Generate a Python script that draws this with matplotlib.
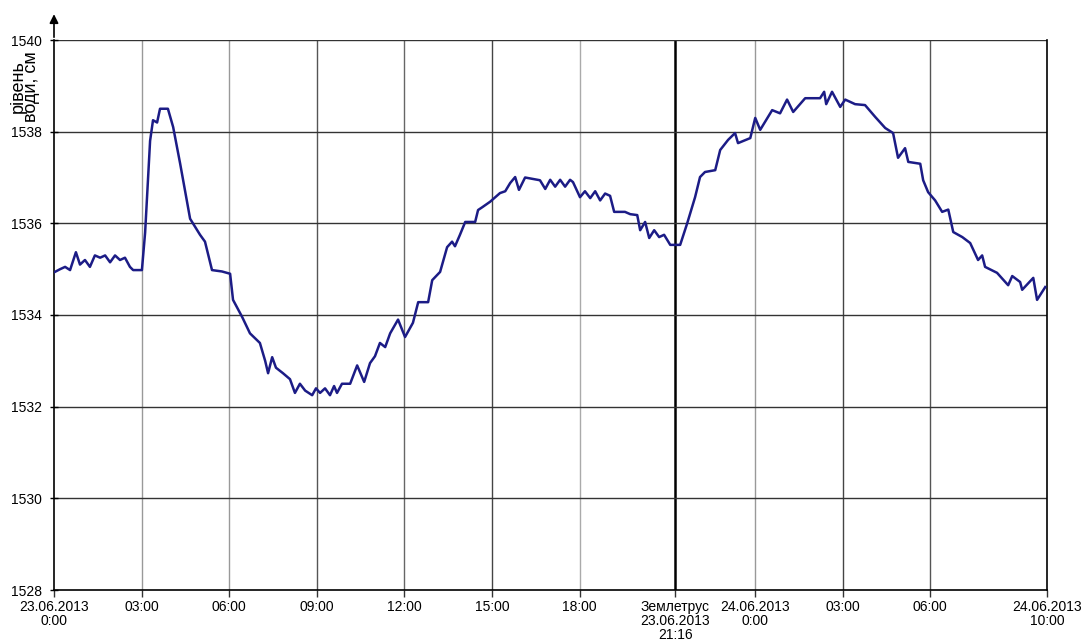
import matplotlib.pyplot as plt

# hours since 23.06.2013 0:00 and water level (cm)
hours = [0.03, 0.21, 0.38, 0.55, 0.75, 0.89, 1.06, 1.23, 1.40, 1.58, 1.75, 1.92, 2.09, 2.26,
         2.43, 2.60, 2.71, 2.95, 3.01, 3.12, 3.22, 3.29, 3.39, 3.53, 3.63, 3.90, 4.08, 4.32,
         4.66, 5.00, 5.17, 5.41, 5.75, 6.03, 6.13, 6.44, 6.71, 7.05, 7.23, 7.33, 7.47, 7.60,
         7.84, 8.08, 8.25, 8.42, 8.60, 8.84, 8.97, 9.11, 9.28, 9.45, 9.59, 9.69, 9.86, 10.14,
         10.38, 10.62, 10.82, 10.99, 11.16, 11.34, 11.51, 11.78, 12.02, 12.29, 12.47, 12.81,
         12.95, 13.22, 13.46, 13.63, 13.73, 13.90, 14.08, 14.42, 14.52, 14.66, 14.93, 15.27,
         15.45, 15.62, 15.79, 15.92, 16.13, 16.64, 16.82, 16.99, 17.16, 17.33, 17.50, 17.67,
         17.77, 18.01, 18.18, 18.36, 18.53, 18.70, 18.87, 19.04, 19.18, 19.55, 19.73, 19.97,
         20.07, 20.24, 20.38, 20.55, 20.72, 20.89, 21.10, 21.44, 21.68, 21.95, 22.12, 22.29,
         22.64, 22.81, 23.08, 23.32, 23.42, 23.84, 24.01, 24.18, 24.59, 24.86, 25.10, 25.31,
         25.72, 26.23, 26.37, 26.44, 26.64, 26.92, 27.09, 27.43, 27.77, 28.12, 28.46, 28.73,
         28.90, 29.14, 29.25, 29.66, 29.76, 29.93, 30.17, 30.41, 30.62, 30.79, 30.96, 31.10,
         31.37, 31.64, 31.78, 31.88, 32.29, 32.67, 32.81, 33.08, 33.15, 33.53, 33.66, 33.94]
level = [1534.94, 1535.00, 1535.05, 1534.98, 1535.37, 1535.10, 1535.20, 1535.05, 1535.30,
         1535.25, 1535.30, 1535.15, 1535.30, 1535.20, 1535.25, 1535.05, 1534.98, 1534.98,
         1534.98, 1535.80, 1537.00, 1537.80, 1538.25, 1538.20, 1538.50, 1538.50, 1538.10,
         1537.30, 1536.10, 1535.75, 1535.60, 1534.98, 1534.95, 1534.90, 1534.33, 1533.96,
         1533.60, 1533.39, 1533.00, 1532.73, 1533.08, 1532.85, 1532.73, 1532.60, 1532.30,
         1532.50, 1532.35, 1532.25, 1532.40, 1532.30, 1532.40, 1532.25, 1532.45, 1532.30,
         1532.50, 1532.50, 1532.90, 1532.54, 1532.95, 1533.10, 1533.39, 1533.30, 1533.60,
         1533.90, 1533.52, 1533.83, 1534.28, 1534.28, 1534.76, 1534.94, 1535.48, 1535.60,
         1535.50, 1535.75, 1536.03, 1536.03, 1536.29, 1536.35, 1536.47, 1536.66, 1536.70,
         1536.88, 1537.01, 1536.73, 1537.00, 1536.94, 1536.75, 1536.95, 1536.80, 1536.95,
         1536.80, 1536.95, 1536.90, 1536.57, 1536.70, 1536.55, 1536.70, 1536.50, 1536.65,
         1536.60, 1536.25, 1536.25, 1536.20, 1536.18, 1535.85, 1536.03, 1535.68, 1535.85,
         1535.70, 1535.75, 1535.53, 1535.53, 1536.00, 1536.57, 1537.01, 1537.12, 1537.16,
         1537.60, 1537.82, 1537.97, 1537.75, 1537.86, 1538.30, 1538.04, 1538.47, 1538.40,
         1538.70, 1538.43, 1538.73, 1538.73, 1538.87, 1538.60, 1538.87, 1538.54, 1538.70,
         1538.60, 1538.58, 1538.32, 1538.08, 1537.97, 1537.43, 1537.64, 1537.34, 1537.30,
         1536.94, 1536.68, 1536.50, 1536.25, 1536.30, 1535.81, 1535.75, 1535.70, 1535.57,
         1535.20, 1535.30, 1535.05, 1534.92, 1534.65, 1534.85, 1534.72, 1534.55, 1534.81,
         1534.33, 1534.61]

x_ticks = [0, 3, 6, 9, 12, 15, 18, 21 + 16 / 60, 24, 27, 30, 34]
x_labels = ['23.06.2013\n0:00', '03:00', '06:00', '09:00', '12:00', '15:00', '18:00',
            'Землетрус\n23.06.2013\n21:16', '24.06.2013\n0:00', '03:00', '06:00',
            '24.06.2013\n10:00']
y_ticks = [1528, 1530, 1532, 1534, 1536, 1538, 1540]

plt.rcParams['font.family'] = ['Liberation Sans', 'DejaVu Sans']

fig = plt.figure(figsize=(10.87, 6.41), dpi=100)
ax = fig.add_axes([54 / 1087, 1 - 590 / 641, (1047 - 54) / 1087, 550 / 641])

# vertical grid lines, shades vary like the original scan
v_colors = ['k', '#999999', '#999999', '#555555', '#666666', '#444444', '#aaaaaa',
            'k', '#999999', '#444444', '#555555', 'k']
for xt, c in zip(x_ticks[1:-1], v_colors[1:-1]):
    lw = 1.8 if c == 'k' else 1.0
    ax.axvline(xt, color=c, lw=lw, zorder=1)
for yt in y_ticks[1:]:
    ax.axhline(yt, color='#333333', lw=1.0, zorder=1)

ax.plot(hours, level, color='#1c1c86', lw=1.8, zorder=3)

ax.set_xlim(0, 34)
ax.set_ylim(1528, 1540)
ax.set_xticks(x_ticks)
ax.set_xticklabels(x_labels, fontsize=10, linespacing=1.0)
ax.set_yticks(y_ticks)
ax.set_yticklabels([str(v) for v in y_ticks], fontsize=10)
ax.tick_params(axis='x', direction='out', length=5, width=1, color='#333333', pad=2)
ax.tick_params(axis='y', direction='inout', length=6, width=1, pad=6)

ax.spines['top'].set_visible(False)
for s in ['left', 'bottom', 'right']:
    ax.spines[s].set_color('k')
    ax.spines[s].set_linewidth(1.2)

# arrow on the y axis
ax.annotate('', xy=(0, 1.052), xytext=(0, 1.0), xycoords='axes fraction',
            arrowprops=dict(arrowstyle='-|>', color='k', lw=1.2, mutation_scale=13),
            annotation_clip=False)

fig.text(25 / 1087, 1 - 87 / 641, 'рівень\nводи, см', rotation=90, fontsize=13,
         ha='center', va='center', linespacing=0.75)

fig.savefig('out.png', dpi=100, facecolor='white')
